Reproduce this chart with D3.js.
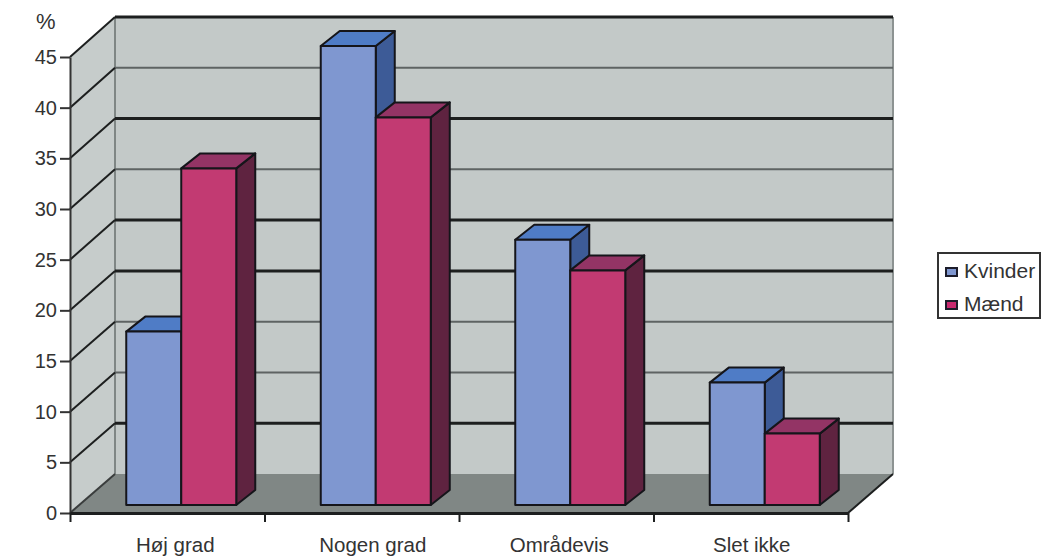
<!DOCTYPE html>
<html>
<head>
<meta charset="utf-8">
<script src="https://d3js.org/d3.v7.min.js"></script>
<style>
  html, body { margin: 0; padding: 0; background: #fff; }
  svg { display: block; }
  text { font-family: "Liberation Sans", Arial, sans-serif; fill: #333; }
</style>
</head>
<body>
<svg id="chart" width="1053" height="558"></svg>
<script>
const categories = ["Høj grad", "Nogen grad", "Områdevis", "Slet ikke"];
const seriesNames = ["Kvinder", "Mænd"];
const kvinder = [17, 45, 26, 12];
const maend = [33, 38, 23, 7];
const yTicks = [0, 5, 10, 15, 20, 25, 30, 35, 40, 45];
// stroke weight of each horizontal grid line on the back wall, ordered as yTicks
const gridWeights = [0, 3, 2, 2, 3, 3, 2, 3, 2, 3];

const faces = {
  Kvinder: { front: "#7f97d0", top: "#4f7cc6", side: "#3d5b97", key: "#7f97d0" },
  "Mænd": { front: "#c23a72", top: "#933465", side: "#5f2340", key: "#c8296f" }
};

const svg = d3.select("#chart");

// Oblique projection: wall depth and bar depth in pixels
const wallDx = 45;
const barDx = 19, barDy = -15;

const x = d3.scaleBand().domain(categories).range([70, 848]);
const yFront = d3.scaleLinear().domain([0, 45]).range([513, 57]);
const yBack = d3.scaleLinear().domain([0, 45]).range([474, 17]);
const yBar = d3.scaleLinear().domain([0, 45]).range([505, 46]);
const xInBand = d3.scaleBand().domain(seriesNames).range([0, 110]);

const pts = a => a.map(p => p.join(",")).join(" ");
const x0 = x.range()[0], x1 = x.range()[1];
const wallTop = yFront(45), wallBottom = yFront(0);
const backL = x0 + wallDx, backR = x1 + wallDx;

// Back wall, side wall and floor
svg.append("polygon")
  .attr("points", pts([[backL, yBack(45)], [backR, yBack(45)], [backR, yBack(0)], [backL, yBack(0)]]))
  .attr("fill", "#c3c9c8");
svg.append("polygon")
  .attr("points", pts([[x0, wallTop], [backL, yBack(45)], [backL, yBack(0)], [x0, wallBottom]]))
  .attr("fill", "#c6cccb");
svg.append("polygon")
  .attr("points", pts([[x0, wallBottom], [backL, yBack(0)], [backR, yBack(0)], [x1, wallBottom]]))
  .attr("fill", "#808785");

// Wall edges
svg.append("line").attr("x1", backL).attr("x2", backL).attr("y1", yBack(45)).attr("y2", yBack(0))
  .attr("stroke", "#7f8685").attr("stroke-width", 2);
svg.append("line").attr("x1", backR).attr("x2", backR).attr("y1", yBack(45)).attr("y2", yBack(0))
  .attr("stroke", "#8d9392").attr("stroke-width", 2);

// Grid lines across the back wall and down the side wall
yTicks.forEach((t, i) => {
  const w = gridWeights[i];
  if (w) {
    svg.append("line").attr("x1", backL).attr("x2", backR)
      .attr("y1", yBack(t)).attr("y2", yBack(t))
      .attr("stroke", w === 3 ? "#1d1f1f" : "#5e6363").attr("stroke-width", w);
  }
  svg.append("line").attr("x1", x0).attr("x2", backL)
    .attr("y1", yFront(t)).attr("y2", yBack(t))
    .attr("stroke", t === 0 ? "#3a3d3d" : "#1d1f1f").attr("stroke-width", 2);
});

// Floor edge on the right
svg.append("line").attr("x1", x1).attr("x2", backR).attr("y1", wallBottom).attr("y2", yBack(0))
  .attr("stroke", "#1d1f1f").attr("stroke-width", 2);

// Bars, drawn as front, top and side faces
const rows = categories.flatMap((c, i) => [
  { c, s: "Kvinder", v: kvinder[i] },
  { c, s: "Mænd", v: maend[i] }
]);
const barOffset = x.bandwidth() / 2 - 55 + 14;
const bars = svg.append("g").selectAll("g").data(rows).join("g")
  .attr("stroke", "#15151a").attr("stroke-width", 2).attr("stroke-linejoin", "round");
bars.each(function (d) {
  const g = d3.select(this);
  const l = x(d.c) + barOffset + xInBand(d.s);
  const r = l + xInBand.bandwidth();
  const t = yBar(d.v), b = yBar(0);
  g.append("polygon").attr("fill", faces[d.s].side)
    .attr("points", pts([[r, t], [r + barDx, t + barDy], [r + barDx, b + barDy], [r, b]]));
  g.append("polygon").attr("fill", faces[d.s].top)
    .attr("points", pts([[l, t], [l + barDx, t + barDy], [r + barDx, t + barDy], [r, t]]));
  g.append("rect").attr("fill", faces[d.s].front)
    .attr("x", l).attr("y", t).attr("width", r - l).attr("height", b - t);
});

// Value axis
const axisY = svg.append("g").attr("transform", `translate(${x0},0)`)
  .call(d3.axisLeft(yFront).tickValues(yTicks).tickSize(10).tickSizeOuter(0).tickPadding(3));
axisY.select(".domain").attr("stroke", "#333").attr("stroke-width", 2);
axisY.selectAll(".tick line").attr("stroke", "#333").attr("stroke-width", 2);
axisY.selectAll("text").attr("font-size", 20).attr("fill", "#333")
  .style("font-family", '"Liberation Sans", Arial, sans-serif');

// Category axis: ticks mark the band edges, labels sit under each band
const edgeScale = d3.scaleLinear().domain([0, categories.length]).range([x0, x1]);
const axisX = svg.append("g").attr("transform", `translate(0,${wallBottom})`)
  .call(d3.axisBottom(edgeScale).ticks(categories.length).tickSize(9).tickSizeOuter(0).tickFormat(""));
axisX.select(".domain").attr("stroke", "#1d1f1f").attr("stroke-width", 3);
axisX.selectAll(".tick line").attr("stroke", "#1d1f1f").attr("stroke-width", 2);

// Labels are hand-placed relative to their band centre
const labelShift = d3.scaleOrdinal().domain(categories).range([8, 11, 3, 1]);
svg.append("g").selectAll("text").data(categories).join("text")
  .attr("x", d => x(d) + x.bandwidth() / 2 + labelShift(d))
  .attr("y", 552)
  .attr("text-anchor", "middle")
  .attr("font-size", 20.5)
  .text(d => d);

svg.append("text").attr("x", 36).attr("y", 29).attr("font-size", 22).text("%");

// Legend
const legend = svg.append("g");
legend.append("rect").attr("x", 938).attr("y", 253).attr("width", 102).attr("height", 65)
  .attr("fill", "#fff").attr("stroke", "#333").attr("stroke-width", 2);
seriesNames.forEach((name, i) => {
  const cy = 272 + i * 33;
  legend.append("rect").attr("x", 946).attr("y", cy - 4).attr("width", 11).attr("height", 8)
    .attr("fill", faces[name].key).attr("stroke", "#1c1c2a").attr("stroke-width", 2);
  legend.append("text").attr("x", 964).attr("y", cy + 6).attr("font-size", 21).text(name);
});
</script>
</body>
</html>
